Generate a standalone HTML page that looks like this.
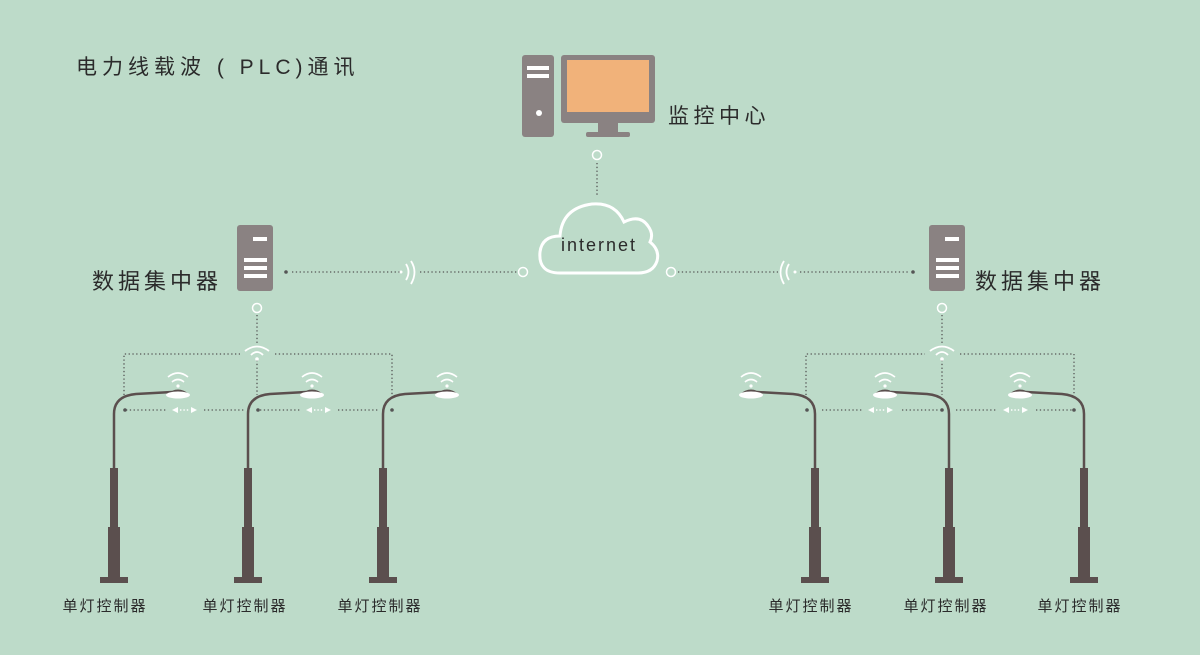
<!DOCTYPE html>
<html><head><meta charset="utf-8"><style>
html,body{margin:0;padding:0;background:#bddbc9;}
svg{display:block}
text{font-family:"Liberation Sans","Noto Sans CJK SC",sans-serif;fill:#2b2b2b}
</style></head><body>
<svg width="1200" height="655" viewBox="0 0 1200 655" xmlns="http://www.w3.org/2000/svg">
<defs>
<g id="pole">
  <rect x="-14" y="577" width="28" height="6" fill="#5b4f4e"/>
  <rect x="-6" y="527" width="12" height="50" fill="#5b4f4e"/>
  <rect x="-4" y="468" width="8" height="60" fill="#5b4f4e"/>
  <path d="M0 470 L0 414 Q0 396 22 394 L58 392" stroke="#5b4f4e" stroke-width="2.5" fill="none"/>
  <path d="M53 394 Q64 385 75 394 Z" fill="#5b4f4e"/>
  <ellipse cx="64" cy="395" rx="12" ry="3.5" fill="#fff"/>
  <circle cx="64" cy="386" r="1.6" fill="#fff"/>
  <path d="M58 382 Q64 377 70 382" stroke="#fff" stroke-width="1.6" fill="none"/>
  <path d="M54 377 Q64 369 74 377" stroke="#fff" stroke-width="1.6" fill="none"/>
</g>
<g id="wifi">
  <circle cx="0" cy="5" r="1.8" fill="#fff"/>
  <path d="M-6 1 Q0 -5 6 1" stroke="#fff" stroke-width="1.8" fill="none"/>
  <path d="M-12 -3 Q0 -12 12 -3" stroke="#fff" stroke-width="1.8" fill="none"/>
</g>
<g id="server">
  <rect x="0" y="0" width="36" height="66" rx="3" fill="#8a8282"/>
  <rect x="16" y="12" width="14" height="4" fill="#fff"/>
  <rect x="7" y="33" width="23" height="4" fill="#fff"/>
  <rect x="7" y="41" width="23" height="4" fill="#fff"/>
  <rect x="7" y="49" width="23" height="4" fill="#fff"/>
</g>
<g id="arrows">
  <path d="M0 0 L6 -3 L6 3 Z" fill="#fff"/>
  <path d="M25 0 L19 -3 L19 3 Z" fill="#fff"/>
  <line x1="8" y1="0" x2="17" y2="0" stroke="#fff" stroke-width="1.4" stroke-dasharray="1.4 2"/>
</g>
</defs>

<text x="76" y="74" font-size="21" letter-spacing="5">电力线载波 ( PLC)通讯</text>

<!-- computer -->
<rect x="522" y="55" width="32" height="82" rx="3" fill="#8a8282"/>
<rect x="527" y="66" width="22" height="4" fill="#fff"/>
<rect x="527" y="74" width="22" height="4" fill="#fff"/>
<circle cx="539" cy="113" r="3" fill="#fff"/>
<rect x="561" y="55" width="94" height="68" rx="3" fill="#8a8282"/>
<rect x="567" y="60" width="82" height="52" fill="#f1b27a"/>
<rect x="598" y="122" width="20" height="10" fill="#8a8282"/>
<rect x="586" y="132" width="44" height="5" rx="2" fill="#8a8282"/>
<text x="668" y="123" font-size="21" letter-spacing="4.5">监控中心</text>
<circle cx="597" cy="155" r="4.5" fill="none" stroke="#fff" stroke-width="1.5"/>
<line x1="597" y1="163" x2="597" y2="195" stroke="#555" stroke-width="1.3" stroke-dasharray="1.3 2.5"/>

<!-- cloud -->
<path d="M560 273 Q538 273 540 252 Q542 236 560 236 Q562 208 592 204 Q615 202 624 222 Q640 214 648 226 Q654 234 650 242 Q660 250 657 261 Q653 273 638 273 Z" fill="none" stroke="#fff" stroke-width="3"/>
<text x="561" y="251" font-size="18" letter-spacing="2">internet</text>

<!-- left concentrator -->
<use href="#server" x="237" y="225"/>
<text x="92" y="289" font-size="22" letter-spacing="4">数据集中器</text>
<circle cx="286" cy="272" r="1.8" fill="#555"/>
<line x1="292" y1="272" x2="400" y2="272" stroke="#555" stroke-width="1.3" stroke-dasharray="1.3 2.5"/>
<circle cx="401" cy="272" r="1.5" fill="#fff"/>
<path d="M406 264 Q411 272 406 280" stroke="#fff" stroke-width="1.8" fill="none"/>
<path d="M411 261 Q418 272 411 284" stroke="#fff" stroke-width="1.8" fill="none"/>
<line x1="420" y1="272" x2="517" y2="272" stroke="#555" stroke-width="1.3" stroke-dasharray="1.3 2.5"/>
<circle cx="523" cy="272" r="4.5" fill="none" stroke="#fff" stroke-width="1.5"/>

<!-- right concentrator -->
<use href="#server" x="929" y="225"/>
<text x="975" y="289" font-size="22" letter-spacing="4">数据集中器</text>
<circle cx="671" cy="272" r="4.5" fill="none" stroke="#fff" stroke-width="1.5"/>
<line x1="678" y1="272" x2="778" y2="272" stroke="#555" stroke-width="1.3" stroke-dasharray="1.3 2.5"/>
<path d="M789 264 Q784 272 789 280" stroke="#fff" stroke-width="1.8" fill="none"/>
<path d="M784 261 Q777 272 784 284" stroke="#fff" stroke-width="1.8" fill="none"/>
<circle cx="795" cy="272" r="1.5" fill="#fff"/>
<line x1="800" y1="272" x2="910" y2="272" stroke="#555" stroke-width="1.3" stroke-dasharray="1.3 2.5"/>
<circle cx="913" cy="272" r="1.8" fill="#555"/>

<!-- networks -->
<g stroke="#555" stroke-width="1.3" stroke-dasharray="1.3 2.5" fill="none">
<line x1="257" y1="315" x2="257" y2="345"/>
<polyline points="124,395 124,354 240,354"/>
<polyline points="275,354 392,354 392,395"/>
<line x1="257" y1="360" x2="257" y2="395"/>
<line x1="126" y1="410" x2="166" y2="410"/>
<line x1="204" y1="410" x2="244" y2="410"/>
<line x1="260" y1="410" x2="300" y2="410"/>
<line x1="338" y1="410" x2="378" y2="410"/>
<line x1="942" y1="315" x2="942" y2="345"/>
<polyline points="806,395 806,354 925,354"/>
<polyline points="960,354 1074,354 1074,395"/>
<line x1="942" y1="360" x2="942" y2="395"/>
<line x1="822" y1="410" x2="862" y2="410"/>
<line x1="902" y1="410" x2="938" y2="410"/>
<line x1="956" y1="410" x2="996" y2="410"/>
<line x1="1036" y1="410" x2="1072" y2="410"/>
</g>
<circle cx="257" cy="308" r="4.5" fill="none" stroke="#fff" stroke-width="1.5"/>
<circle cx="942" cy="308" r="4.5" fill="none" stroke="#fff" stroke-width="1.5"/>
<use href="#wifi" x="257" y="354"/>
<use href="#wifi" x="942" y="354"/>
<g fill="#555">
<circle cx="125" cy="410" r="1.8"/><circle cx="258" cy="410" r="1.8"/><circle cx="392" cy="410" r="1.8"/>
<circle cx="807" cy="410" r="1.8"/><circle cx="942" cy="410" r="1.8"/><circle cx="1074" cy="410" r="1.8"/>
</g>
<use href="#arrows" x="172" y="410"/>
<use href="#arrows" x="306" y="410"/>
<use href="#arrows" x="868" y="410"/>
<use href="#arrows" x="1003" y="410"/>

<!-- poles -->
<use href="#pole" transform="translate(114,0)"/>
<use href="#pole" transform="translate(248,0)"/>
<use href="#pole" transform="translate(383,0)"/>
<use href="#pole" transform="translate(815,0) scale(-1,1)"/>
<use href="#pole" transform="translate(949,0) scale(-1,1)"/>
<use href="#pole" transform="translate(1084,0) scale(-1,1)"/>

<g font-size="15" text-anchor="middle" letter-spacing="2">
<text x="105" y="611">单灯控制器</text>
<text x="245" y="611">单灯控制器</text>
<text x="380" y="611">单灯控制器</text>
<text x="811" y="611">单灯控制器</text>
<text x="946" y="611">单灯控制器</text>
<text x="1080" y="611">单灯控制器</text>
</g>
</svg>
</body></html>
